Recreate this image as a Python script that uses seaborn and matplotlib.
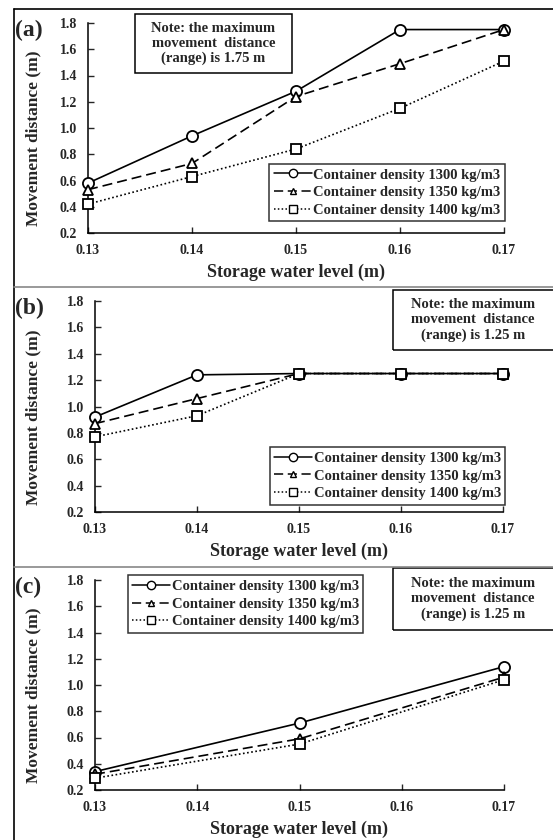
import pandas as pd
import seaborn as sns
import matplotlib.pyplot as plt
from matplotlib.lines import Line2D
from matplotlib.patches import Rectangle

# data
levels_ab = [0.13, 0.14, 0.15, 0.16, 0.17]
levels_c = [0.13, 0.15, 0.17]

a_1300 = [0.58, 0.94, 1.28, 1.75, 1.75]
a_1350 = [0.53, 0.73, 1.24, 1.49, 1.75]
a_1400 = [0.42, 0.63, 0.84, 1.15, 1.51]

b_1300 = [0.92, 1.24, 1.25, 1.25, 1.25]
b_1350 = [0.87, 1.06, 1.25, 1.25, 1.25]
b_1400 = [0.77, 0.93, 1.25, 1.25, 1.25]

c_1300 = [0.34, 0.71, 1.14]
c_1350 = [0.32, 0.59, 1.06]
c_1400 = [0.29, 0.55, 1.04]

series_names = ["Container density 1300 kg/m3",
                "Container density 1350 kg/m3",
                "Container density 1400 kg/m3"]
notes = ["Note: the maximum\nmovement  distance\n(range) is 1.75 m",
         "Note: the maximum\nmovement  distance\n(range) is 1.25 m",
         "Note: the maximum\nmovement  distance\n(range) is 1.25 m"]
panel_tags = ["(a)", "(b)", "(c)"]

sns.set_style("white")
plt.rcParams['font.family'] = ['Liberation Serif', 'DejaVu Serif']
plt.rcParams['font.weight'] = 'bold'

W, H = 553, 840
fig = plt.figure(figsize=(W / 100, H / 100), dpi=100)

def fx(px):
    return px / W

def fy(py):
    return 1 - py / H

styles = [dict(marker='o', linestyle='-', markersize=8),
          dict(marker='^', linestyle=(0, (6, 3)), markersize=6.5),
          dict(marker='s', linestyle=(0, (1, 1.5)), markersize=7)]

# axes boxes in pixels: left, right, top, bottom
boxes = [(88, 504, 23, 233), (95, 503, 301, 512), (95, 504, 580, 790)]
datasets = [(levels_ab, [a_1300, a_1350, a_1400]),
            (levels_ab, [b_1300, b_1350, b_1400]),
            (levels_c, [c_1300, c_1350, c_1400])]
note_boxes = [(135, 292, 14, 73), (393, 556, 290, 350), (393, 556, 568, 630)]
legend_boxes = [(269, 505, 163, 222), (270, 505, 448, 504), (128, 363, 576, 632)]

for i, ((l, r, t, b), (xs, ys)) in enumerate(zip(boxes, datasets)):
    ax = fig.add_axes([fx(l), fy(b), fx(r - l), (b - t) / H])
    for name, vals, st in zip(series_names, ys, styles):
        df = pd.DataFrame({"level": xs, "dist": vals})
        sns.lineplot(data=df, x="level", y="dist", ax=ax, color='black',
                     linewidth=1.2, markerfacecolor='white',
                     markeredgecolor='black', markeredgewidth=1.3,
                     clip_on=False, zorder=3, **st)
    ax.set_xlim(0.13, 0.17)
    ax.set_ylim(0.2, 1.8)
    ax.set_xticks([0.13, 0.14, 0.15, 0.16, 0.17])
    ax.set_xticklabels(["0.13", "0.14", "0.15", "0.16", "0.17"])
    ax.set_yticks([0.2, 0.4, 0.6, 0.8, 1.0, 1.2, 1.4, 1.6, 1.8])
    ax.set_yticklabels(["0.2", "0.4", "0.6", "0.8", "1.0", "1.2", "1.4", "1.6", "1.8"])
    ax.tick_params(direction='in', length=4, width=1, labelsize=10, pad=8,
                   left=True, bottom=True)
    for s in ['top', 'right']:
        ax.spines[s].set_visible(False)
    for s in ['left', 'bottom']:
        ax.spines[s].set_color('black')
        ax.spines[s].set_linewidth(1.1)
    ax.set_xlabel("Storage water level (m)", fontsize=13, fontweight='bold', labelpad=5)
    ax.set_ylabel("Movement distance (m)", fontsize=12.5, fontweight='bold')
    ax.yaxis.set_label_coords(-(l - 41) / (r - l), 0.45)
    ax.patch.set_alpha(0)

    # panel tag
    fig.text(fx(15), fy(t + 7), panel_tags[i], fontsize=17, fontweight='bold',
             ha='left', va='center')

    # note box
    nl, nr, nt, nb = note_boxes[i]
    fig.patches.append(Rectangle((fx(nl), fy(nb)), fx(nr - nl), (nb - nt) / H,
                                 transform=fig.transFigure, fill=False,
                                 edgecolor='black', linewidth=1.1))
    fig.text(fx((nl + min(nr, 553)) / 2), fy((nt + nb) / 2), notes[i],
             fontsize=10.5, fontweight='bold', ha='center', va='center',
             linespacing=1.2)

    # legend
    ll, lr, lt, lb = legend_boxes[i]
    handles = [Line2D([], [], color='black', linewidth=1.1,
                      marker=st['marker'], linestyle=st['linestyle'],
                      markersize=st['markersize'] * 0.75,
                      markerfacecolor='white', markeredgecolor='black')
               for st in styles]
    leg = ax.legend(handles, series_names, loc='center',
                    bbox_to_anchor=(fx((ll + lr) / 2), fy((lt + lb) / 2)),
                    bbox_transform=fig.transFigure, frameon=True, fancybox=False,
                    edgecolor='black', fontsize=10.5, handlelength=2.6,
                    handletextpad=0.1, borderpad=0.3, labelspacing=0.3,
                    borderaxespad=0)
    leg.get_frame().set_linewidth(1.1)
    for txt in leg.get_texts():
        txt.set_fontweight('bold')

# outer frame lines
fig.add_artist(Line2D([fx(14), fx(14)], [0, fy(9)], color='black', linewidth=1.2,
                      transform=fig.transFigure))
fig.add_artist(Line2D([fx(14), 1], [fy(9), fy(9)], color='black', linewidth=1.2,
                      transform=fig.transFigure))
for yy in [287, 567]:
    fig.add_artist(Line2D([fx(14), 1], [fy(yy), fy(yy)], color='#888888',
                          linewidth=1.2, transform=fig.transFigure))

fig.savefig("out.png", dpi=100)
